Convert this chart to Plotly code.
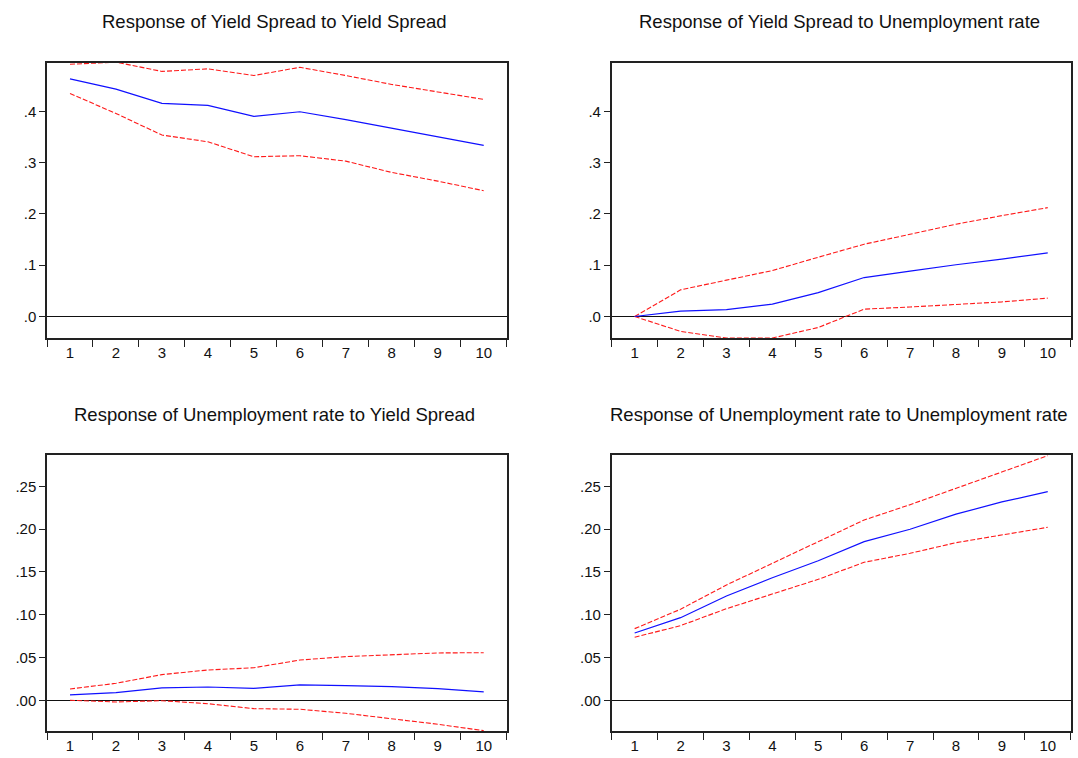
import plotly.graph_objects as go

# Forecast horizon (periods)
periods = list(range(1, 11))

# Response of Yield Spread to Yield Spread
ys_ys = [0.4635, 0.4434, 0.4156, 0.4117, 0.3903, 0.3993, 0.3840, 0.3670, 0.3505, 0.3338]
ys_ys_hi = [0.492, 0.496, 0.478, 0.483, 0.470, 0.486, 0.470, 0.4526, 0.438, 0.4234]
ys_ys_lo = [0.435, 0.396, 0.3539, 0.3408, 0.3116, 0.3136, 0.3030, 0.2810, 0.2640, 0.2454]

# Response of Yield Spread to Unemployment rate
ys_ur = [0.0, 0.0104, 0.0136, 0.0240, 0.0467, 0.0760, 0.0885, 0.1010, 0.1120, 0.1240]
ys_ur_hi = [0.0, 0.0520, 0.0709, 0.0896, 0.1156, 0.1410, 0.1604, 0.1800, 0.1967, 0.2123]
ys_ur_lo = [0.0, -0.0290, -0.0420, -0.0420, -0.0214, 0.0143, 0.0185, 0.0234, 0.0285, 0.0358]

# Response of Unemployment rate to Yield Spread
ur_ys = [0.0062, 0.0089, 0.0144, 0.0155, 0.0140, 0.0179, 0.0172, 0.0160, 0.0135, 0.0097]
ur_ys_hi = [0.0132, 0.0198, 0.0300, 0.0354, 0.0380, 0.0470, 0.0510, 0.0533, 0.0553, 0.0556]
ur_ys_lo = [0.0, -0.0020, -0.0005, -0.0040, -0.0098, -0.0105, -0.0152, -0.0215, -0.0280, -0.0355]

# Response of Unemployment rate to Unemployment rate
ur_ur = [0.0786, 0.0965, 0.1218, 0.1432, 0.1630, 0.1853, 0.1998, 0.2174, 0.2317, 0.2437]
ur_ur_hi = [0.0837, 0.1063, 0.1347, 0.1600, 0.1846, 0.2106, 0.2285, 0.2475, 0.2665, 0.2858]
ur_ur_lo = [0.0736, 0.0872, 0.1070, 0.1245, 0.1413, 0.1612, 0.1717, 0.1841, 0.1931, 0.2021]

titles = [
    "Response of Yield Spread to Yield Spread",
    "Response of Yield Spread to Unemployment rate",
    "Response of Unemployment rate to Yield Spread",
    "Response of Unemployment rate to Unemployment rate",
]

top_ticks = [0.0, 0.1, 0.2, 0.3, 0.4]
bottom_ticks = [0.00, 0.05, 0.10, 0.15, 0.20, 0.25]
top_range = [-0.0425, 0.495]
bottom_range = [-0.0359, 0.2862]

W, H = 1078, 758
left_dom = [47 / W, 506.7 / W]
right_dom = [611.7 / W, 1070.7 / W]
top_dom = [(H - 338.3) / H, (H - 62.7) / H]
bot_dom = [(H - 731) / H, (H - 455.3) / H]


def short_label(v, digits):
    s = f"{v:.{digits}f}"
    return s[1:] if s.startswith("0") else s


panels = [
    (ys_ys, ys_ys_hi, ys_ys_lo, left_dom, top_dom, top_ticks, 1, top_range),
    (ys_ur, ys_ur_hi, ys_ur_lo, right_dom, top_dom, top_ticks, 1, top_range),
    (ur_ys, ur_ys_hi, ur_ys_lo, left_dom, bot_dom, bottom_ticks, 2, bottom_range),
    (ur_ur, ur_ur_hi, ur_ur_lo, right_dom, bot_dom, bottom_ticks, 2, bottom_range),
]

fig = go.Figure()
axis_color = "#222222"
font_family = "Liberation Sans, Arial, sans-serif"

for i, (mid, hi, lo, xd, yd, yt, dig, yr) in enumerate(panels, start=1):
    xa = "x" if i == 1 else f"x{i}"
    ya = "y" if i == 1 else f"y{i}"
    for band in (hi, lo):
        fig.add_trace(go.Scatter(
            x=periods, y=band, mode="lines", xaxis=xa, yaxis=ya,
            line=dict(color="#FF1A1A", width=1.1, dash="5px,2px"),
            showlegend=False, hoverinfo="skip"))
    fig.add_trace(go.Scatter(
        x=periods, y=mid, mode="lines", xaxis=xa, yaxis=ya,
        line=dict(color="#1010FF", width=1.2),
        showlegend=False))

    xkey = "xaxis" if i == 1 else f"xaxis{i}"
    ykey = "yaxis" if i == 1 else f"yaxis{i}"
    fig.layout[xkey] = dict(
        domain=xd, anchor=ya, range=[0.5, 10.5],
        tickvals=periods, ticktext=[str(p) for p in periods],
        ticks="", showgrid=False, zeroline=False,
        showline=True, mirror=True, linecolor=axis_color, linewidth=1.5,
        tickfont=dict(size=15, color="#111111", family=font_family),
        minor=dict(tick0=0.5, dtick=1, ticks="outside", ticklen=7,
                   tickcolor=axis_color, tickwidth=1, showgrid=False),
        fixedrange=True,
    )
    fig.layout[ykey] = dict(
        domain=yd, anchor=xa, range=yr,
        tickvals=yt, ticktext=[short_label(v, dig) for v in yt],
        ticks="outside", ticklen=6, tickcolor=axis_color, tickwidth=1,
        showgrid=False, zeroline=True, zerolinecolor="#111111", zerolinewidth=1,
        showline=True, mirror=True, linecolor=axis_color, linewidth=1.5,
        tickfont=dict(size=15, color="#111111", family=font_family),
        fixedrange=True,
    )
    fig.add_annotation(
        text=titles[i - 1], xref="paper", yref="paper",
        x=(xd[0] + xd[1]) / 2 - 2 / W,
        y=(H - 21) / H if yd is top_dom else (H - 414) / H,
        xanchor="center", yanchor="middle", showarrow=False,
        font=dict(size=18.5, color="#111111", family=font_family))

fig.update_layout(
    width=W, height=H,
    margin=dict(l=0, r=0, t=0, b=0),
    paper_bgcolor="white", plot_bgcolor="white",
    font=dict(family=font_family, color="#111111"),
)

fig.write_html("out.html")
